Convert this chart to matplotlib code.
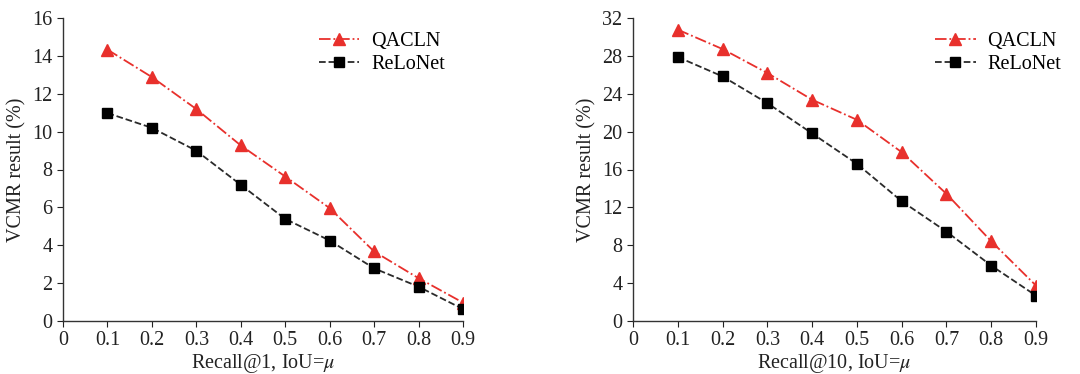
import matplotlib.pyplot as plt

plt.rcParams['font.family'] = ['Liberation Serif', 'DejaVu Serif']
plt.rcParams['mathtext.fontset'] = 'stix'

iou = [0.1, 0.2, 0.3, 0.4, 0.5, 0.6, 0.7, 0.8, 0.9]

# Recall@1
qacln_r1 = [14.33, 12.88, 11.19, 9.27, 7.63, 5.96, 3.67, 2.26, 0.97]
relonet_r1 = [10.98, 10.2, 8.99, 7.19, 5.39, 4.25, 2.78, 1.81, 0.63]

# Recall@10
qacln_r10 = [30.77, 28.72, 26.19, 23.37, 21.25, 17.83, 13.43, 8.42, 3.74]
relonet_r10 = [27.88, 25.83, 23.01, 19.81, 16.6, 12.65, 9.44, 5.85, 2.68]

xticks = [0, 0.1, 0.2, 0.3, 0.4, 0.5, 0.6, 0.7, 0.8, 0.9]
xticklabels = ['0', '0.1', '0.2', '0.3', '0.4', '0.5', '0.6', '0.7', '0.8', '0.9']

fig = plt.figure(figsize=(10.8, 3.74), dpi=100)
ax1 = fig.add_axes([63 / 1080, 1 - 321 / 374, 400 / 1080, 303 / 374])
ax2 = fig.add_axes([633 / 1080, 1 - 321 / 374, 403 / 1080, 303 / 374])

panels = [
    (ax1, qacln_r1, relonet_r1, 16, [0, 2, 4, 6, 8, 10, 12, 14, 16],
     'Recall@1, IoU=$\\mu$', 0.62),
    (ax2, qacln_r10, relonet_r10, 32, [0, 4, 8, 12, 16, 20, 24, 28, 32],
     'Recall@10, IoU=$\\mu$', 0.73),
]

for ax, q, r, ymax, yticks, xlabel, legx in panels:
    ax.plot(iou, q, color='#e8302c', linestyle='-.', linewidth=1.3,
            marker='^', markersize=8, label='QACLN')
    ax.plot(iou, r, color='#2a2a2a', linestyle='--', linewidth=1.3,
            marker='s', markersize=7, markerfacecolor='black', markeredgecolor='black',
            label='ReLoNet')
    ax.set_xlim(0, 0.9)
    ax.set_ylim(0, ymax)
    ax.set_xticks(xticks)
    ax.set_xticklabels(xticklabels)
    ax.set_yticks(yticks)
    ax.spines['top'].set_visible(False)
    ax.spines['right'].set_visible(False)
    for s in ['left', 'bottom']:
        ax.spines[s].set_color('#333333')
        ax.spines[s].set_linewidth(1.0)
    ax.tick_params(direction='out', length=4, width=0.8, labelsize=14.5, colors='#222222')
    ax.set_xlabel(xlabel, fontsize=14.5, color='#222222', labelpad=1)
    ax.set_ylabel('VCMR result (%)', fontsize=14.5, color='#222222', labelpad=4)
    ax.legend(loc='upper left', frameon=False, fontsize=14.5, handlelength=2.0,
              handletextpad=0.6, bbox_to_anchor=(legx, 0.98), borderaxespad=0.0,
              labelspacing=0.2)

fig.savefig('out.png', dpi=100)
